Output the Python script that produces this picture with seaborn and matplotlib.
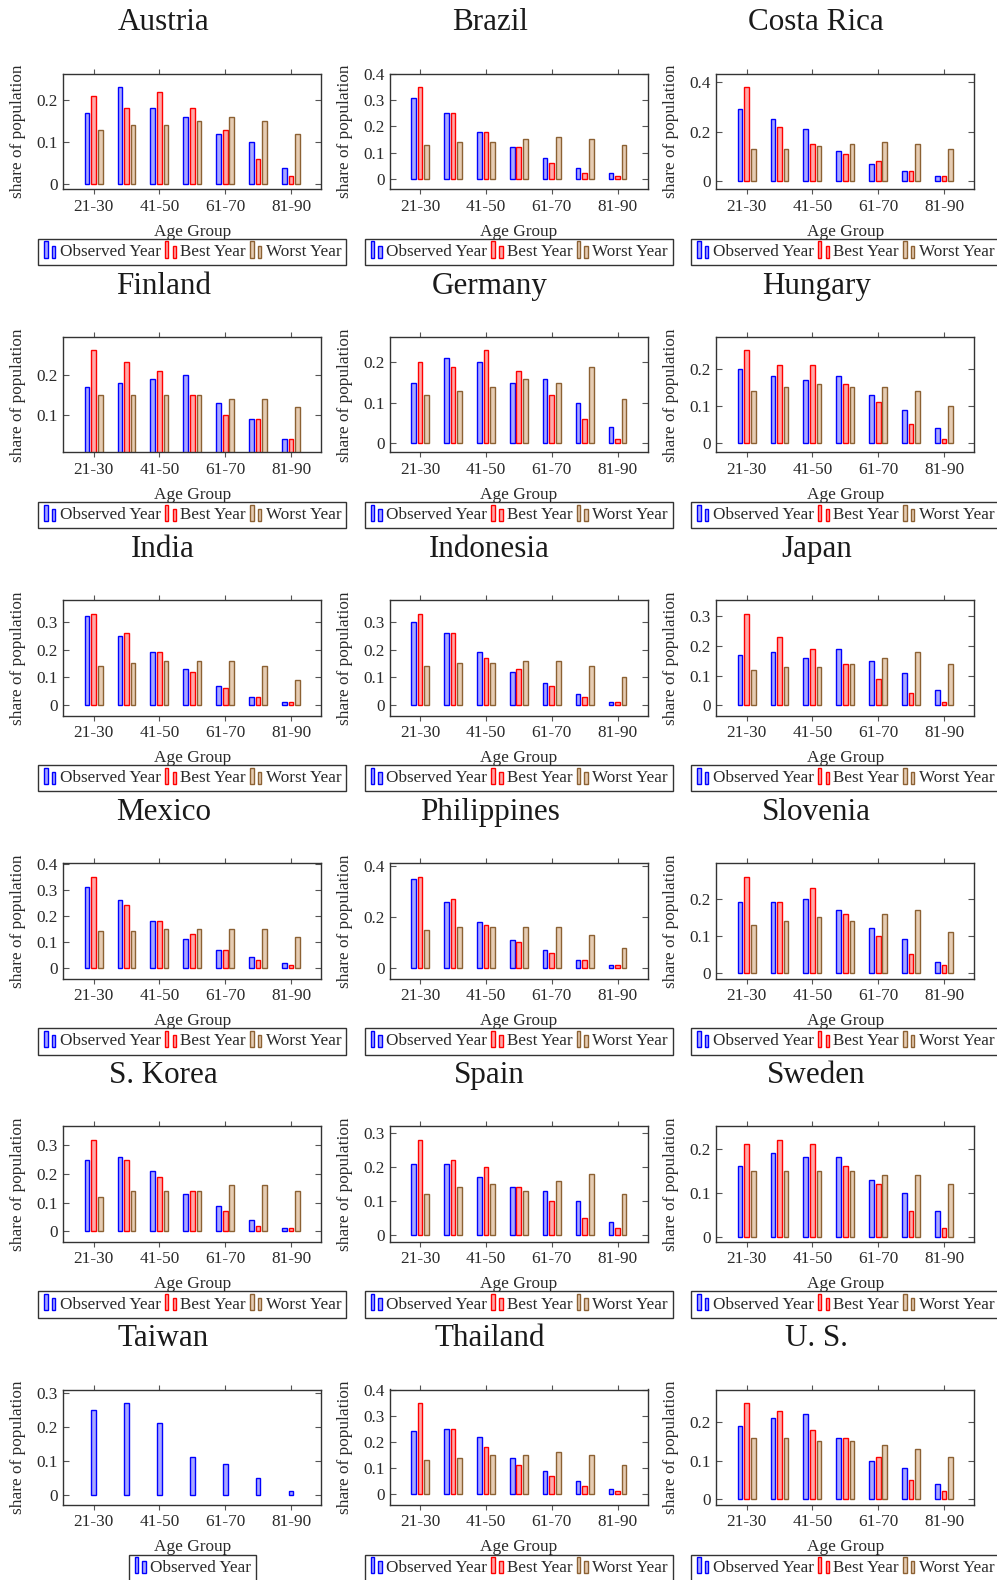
import numpy as np
import pandas as pd
import matplotlib
matplotlib.use("Agg")
import matplotlib.pyplot as plt
import seaborn as sns
from matplotlib.patches import Rectangle, Patch
from matplotlib.legend_handler import HandlerBase
from matplotlib.ticker import MultipleLocator, FuncFormatter

# ---------------- data ----------------
countries = ["Austria", "Brazil", "Costa Rica", "Finland", "Germany", "Hungary",
             "India", "Indonesia", "Japan", "Mexico", "Philippines", "Slovenia",
             "S. Korea", "Spain", "Sweden", "Taiwan", "Thailand", "U. S."]

age_groups = ["21-30", "31-40", "41-50", "51-60", "61-70", "71-80", "81-90"]
tick_labels = ["21-30", "41-50", "61-70", "81-90"]
series_names = ["Observed Year", "Best Year", "Worst Year"]

observed_year = {
    "Austria":     [0.17, 0.23, 0.18, 0.16, 0.12, 0.10, 0.04],
    "Brazil":      [0.31, 0.25, 0.18, 0.12, 0.08, 0.04, 0.02],
    "Costa Rica":  [0.29, 0.25, 0.21, 0.12, 0.07, 0.04, 0.02],
    "Finland":     [0.17, 0.18, 0.19, 0.20, 0.13, 0.09, 0.04],
    "Germany":     [0.15, 0.21, 0.20, 0.15, 0.16, 0.10, 0.04],
    "Hungary":     [0.20, 0.18, 0.17, 0.18, 0.13, 0.09, 0.04],
    "India":       [0.32, 0.25, 0.19, 0.13, 0.07, 0.03, 0.01],
    "Indonesia":   [0.30, 0.26, 0.19, 0.12, 0.08, 0.04, 0.01],
    "Japan":       [0.17, 0.18, 0.16, 0.19, 0.15, 0.11, 0.05],
    "Mexico":      [0.31, 0.26, 0.18, 0.11, 0.07, 0.04, 0.02],
    "Philippines": [0.35, 0.26, 0.18, 0.11, 0.07, 0.03, 0.01],
    "Slovenia":    [0.19, 0.19, 0.20, 0.17, 0.12, 0.09, 0.03],
    "S. Korea":    [0.25, 0.26, 0.21, 0.13, 0.09, 0.04, 0.01],
    "Spain":       [0.21, 0.21, 0.17, 0.14, 0.13, 0.10, 0.04],
    "Sweden":      [0.16, 0.19, 0.18, 0.18, 0.13, 0.10, 0.06],
    "Taiwan":      [0.25, 0.27, 0.21, 0.11, 0.09, 0.05, 0.01],
    "Thailand":    [0.24, 0.25, 0.22, 0.14, 0.09, 0.05, 0.02],
    "U. S.":       [0.19, 0.21, 0.22, 0.16, 0.10, 0.08, 0.04],
}

best_year = {
    "Austria":     [0.21, 0.18, 0.22, 0.18, 0.13, 0.06, 0.02],
    "Brazil":      [0.35, 0.25, 0.18, 0.12, 0.06, 0.02, 0.01],
    "Costa Rica":  [0.38, 0.22, 0.15, 0.11, 0.08, 0.04, 0.02],
    "Finland":     [0.26, 0.23, 0.21, 0.15, 0.10, 0.09, 0.04],
    "Germany":     [0.20, 0.19, 0.23, 0.18, 0.12, 0.06, 0.01],
    "Hungary":     [0.25, 0.21, 0.21, 0.16, 0.11, 0.05, 0.01],
    "India":       [0.33, 0.26, 0.19, 0.12, 0.06, 0.03, 0.01],
    "Indonesia":   [0.33, 0.26, 0.17, 0.13, 0.07, 0.03, 0.01],
    "Japan":       [0.31, 0.23, 0.19, 0.14, 0.09, 0.04, 0.01],
    "Mexico":      [0.35, 0.24, 0.18, 0.13, 0.07, 0.03, 0.01],
    "Philippines": [0.36, 0.27, 0.17, 0.10, 0.06, 0.03, 0.01],
    "Slovenia":    [0.26, 0.19, 0.23, 0.16, 0.10, 0.05, 0.02],
    "S. Korea":    [0.32, 0.25, 0.19, 0.14, 0.07, 0.02, 0.01],
    "Spain":       [0.28, 0.22, 0.20, 0.14, 0.10, 0.05, 0.02],
    "Sweden":      [0.21, 0.22, 0.21, 0.16, 0.12, 0.06, 0.02],
    "Thailand":    [0.35, 0.25, 0.18, 0.11, 0.07, 0.03, 0.01],
    "U. S.":       [0.25, 0.23, 0.18, 0.16, 0.11, 0.05, 0.02],
}

worst_year = {
    "Austria":     [0.13, 0.14, 0.14, 0.15, 0.16, 0.15, 0.12],
    "Brazil":      [0.13, 0.14, 0.14, 0.15, 0.16, 0.15, 0.13],
    "Costa Rica":  [0.13, 0.13, 0.14, 0.15, 0.16, 0.15, 0.13],
    "Finland":     [0.15, 0.15, 0.15, 0.15, 0.14, 0.14, 0.12],
    "Germany":     [0.12, 0.13, 0.14, 0.16, 0.15, 0.19, 0.11],
    "Hungary":     [0.14, 0.15, 0.16, 0.15, 0.15, 0.14, 0.10],
    "India":       [0.14, 0.15, 0.16, 0.16, 0.16, 0.14, 0.09],
    "Indonesia":   [0.14, 0.15, 0.15, 0.16, 0.16, 0.14, 0.10],
    "Japan":       [0.12, 0.13, 0.13, 0.14, 0.16, 0.18, 0.14],
    "Mexico":      [0.14, 0.14, 0.15, 0.15, 0.15, 0.15, 0.12],
    "Philippines": [0.15, 0.16, 0.16, 0.16, 0.16, 0.13, 0.08],
    "Slovenia":    [0.13, 0.14, 0.15, 0.14, 0.16, 0.17, 0.11],
    "S. Korea":    [0.12, 0.14, 0.14, 0.14, 0.16, 0.16, 0.14],
    "Spain":       [0.12, 0.14, 0.15, 0.13, 0.16, 0.18, 0.12],
    "Sweden":      [0.15, 0.15, 0.15, 0.15, 0.14, 0.14, 0.12],
    "Thailand":    [0.13, 0.14, 0.15, 0.15, 0.16, 0.15, 0.11],
    "U. S.":       [0.16, 0.16, 0.15, 0.15, 0.14, 0.13, 0.11],
}

# ---------------- style ----------------
sns.set_theme(style="white")
plt.rcParams['font.family'] = ['Liberation Serif', 'DejaVu Serif']

edge_colors = {"Observed Year": (0.0, 0.0, 1.0),
               "Best Year": (1.0, 0.0, 0.0),
               "Worst Year": (0.55, 0.38, 0.2)}
fill_colors = {"Observed Year": (0.66, 0.66, 1.0),
               "Best Year": (1.0, 0.66, 0.66),
               "Worst Year": (0.9, 0.8, 0.7)}

W, H = 997, 1580
fig = plt.figure(figsize=(W / 100, H / 100), dpi=100)
fig.patch.set_facecolor("white")

AX_W, AX_H = 258.0, 115.3
COL_PITCH, ROW_PITCH = 326.5, 263.1
LEFT0, TOP0 = 63.3, 74.0
TITLE_ABOVE = 51.0      # px from axes top to title centre
TITLE_SHIFT = -29.0     # px horizontal shift of title from axes centre
LEGEND_BELOW = 49.7     # px from axes bottom to legend top
TXT = "#2a2a2a"


class TwoBarHandler(HandlerBase):
    def create_artists(self, legend, orig_handle, xdescent, ydescent,
                       width, height, fontsize, trans):
        fc = orig_handle.get_facecolor()
        ec = orig_handle.get_edgecolor()
        bw = width * 0.26
        x0 = -xdescent
        y0 = -ydescent - 0.12 * height
        r1 = Rectangle((x0 + 0.06 * width, y0), bw, height * 1.35,
                       facecolor=fc, edgecolor=ec, lw=1.0, transform=trans)
        r2 = Rectangle((x0 + 0.62 * width, y0), bw, height * 1.0,
                       facecolor=fc, edgecolor=ec, lw=1.0, transform=trans)
        return [r1, r2]


def fmt(v, pos):
    v = round(v, 3)
    if abs(v) < 1e-9:
        return "0"
    return f"{v:g}"


for i, country in enumerate(countries):
    r, c = divmod(i, 3)
    left = LEFT0 + c * COL_PITCH
    top = TOP0 + r * ROW_PITCH
    ax = fig.add_axes([left / W, 1 - (top + AX_H) / H, AX_W / W, AX_H / H])

    rows = []
    present = []
    for s, d in zip(series_names, [observed_year, best_year, worst_year]):
        vals = d.get(country)
        if vals is None:
            continue
        present.append(s)
        for g, v in zip(age_groups, vals):
            rows.append((g, s, v))
    df = pd.DataFrame(rows, columns=["Age Group", "Series", "share"])

    sns.barplot(data=df, x="Age Group", y="share", hue="Series",
                order=age_groups, hue_order=present,
                palette=[fill_colors[s] for s in present],
                saturation=1, width=0.2 * len(present), gap=0.28,
                legend=False, ax=ax, errorbar=None)
    for cont, s in zip(ax.containers, present):
        for p in cont:
            p.set_edgecolor(edge_colors[s])
            p.set_linewidth(1.0)

    lo, hi = df["share"].min(), df["share"].max()
    rng = hi - lo
    ax.set_ylim(lo - 0.15 * rng, hi + 0.15 * rng)
    ax.set_xlim(-0.92, 6.92)
    span = 1.3 * rng
    ax.yaxis.set_major_locator(MultipleLocator(0.2 if span > 0.45 else 0.1))
    ax.yaxis.set_major_formatter(FuncFormatter(fmt))
    ax.set_xticks(range(0, 7, 2))
    ax.set_xticklabels(tick_labels)

    ax.tick_params(axis="x", direction="out", top=True, bottom=True,
                   length=3.4, width=0.8, color="#555", pad=3.5,
                   labelsize=12.4, labelcolor=TXT)
    ax.tick_params(axis="y", direction="in", left=True, right=True,
                   length=4.0, width=0.8, color="#555", pad=3.8,
                   labelsize=12.4, labelcolor=TXT)
    for sp in ax.spines.values():
        sp.set_visible(True)
        sp.set_color("#333")
        sp.set_linewidth(1.0)
    ax.set_facecolor("white")

    ax.set_xlabel("Age Group", fontsize=12.4, color=TXT)
    ax.xaxis.label.set_va("center")
    ax.xaxis.set_label_coords(0.5, -42.4 / AX_H)
    ax.set_ylabel("share of population", fontsize=12.4, color=TXT)
    ax.yaxis.label.set_va("center")
    ax.yaxis.set_label_coords(-45.0 / AX_W, 0.5)

    ax.text(0.5 + TITLE_SHIFT / AX_W, 1 + TITLE_ABOVE / AX_H, country,
            transform=ax.transAxes, ha="center", va="center",
            fontsize=22.4, color="#1a1a1a")

    handles = [Patch(facecolor=fill_colors[s], edgecolor=edge_colors[s]) for s in present]
    leg = ax.legend(handles, present, loc="upper center",
                    bbox_to_anchor=(0.5, -LEGEND_BELOW / AX_H),
                    ncol=len(present), fontsize=12.3, frameon=True, fancybox=False,
                    handler_map={Patch: TwoBarHandler()},
                    handlelength=0.8, handleheight=0.7, handletextpad=0.15,
                    columnspacing=0.2, borderpad=0.3, borderaxespad=0.0)
    fr = leg.get_frame()
    fr.set_edgecolor("#333")
    fr.set_linewidth(1.0)
    fr.set_facecolor("white")
    fr.set_alpha(1.0)
    for t in leg.get_texts():
        t.set_color(TXT)

fig.savefig("out.png", dpi=100, facecolor="white")
